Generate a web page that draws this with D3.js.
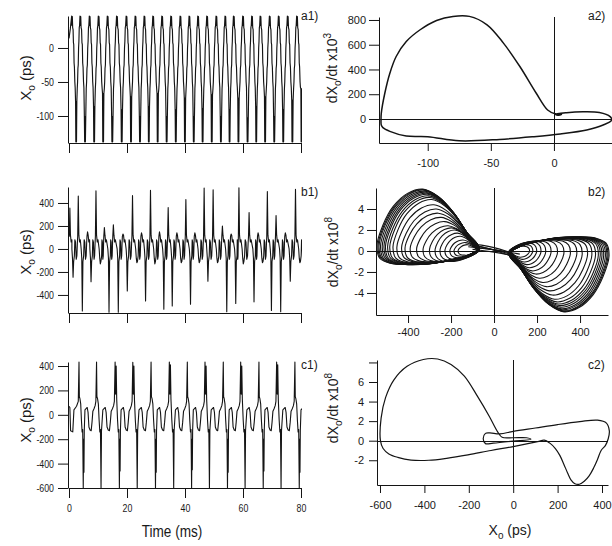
<!DOCTYPE html>
<html><head><meta charset="utf-8">
<script src="https://cdn.jsdelivr.net/npm/d3@7/dist/d3.min.js"></script>
<style>
body{margin:0;background:#fff}
svg text{font-family:"Liberation Sans",Arial,Helvetica,sans-serif;fill:#1a1a1a}
</style></head><body>
<svg id="chart" width="612" height="546" xmlns="http://www.w3.org/2000/svg"></svg>
<script>
// ================= DATA =================
const timeTicks=[0,20,40,60,80];
const a1YTicks=[0,-50,-100];
const b1YTicks=[400,200,0,-200,-400];
const c1YTicks=[400,200,0,-200,-400,-600];
const a2XTicks=[-100,-50,0], a2YTicks=[0,200,400,600,800];
const b2XTicks=[-400,-200,0,200,400], b2YTicks=[-4,-2,0,2,4];
const c2XTicks=[-600,-400,-200,0,200,400], c2YTicks=[-2,0,2,4,6,8];

// a1: periodic series — peak times (ms) and the level where each fast drop starts (ps)
const a1Lead=[[0,14],[0.45,28]];
const a1PeakT=[0.92,3.79,7.0,10.1,13.2,16.4,19.7,22.8,25.9,28.9,32.0,35.1,38.3,41.4,44.4,47.5,50.7,53.8,56.7,59.9,63.0,65.9,69.1,72.2,75.3,78.5];
const a1Knee=[-79,-101,-86,-67,-101,-91,-72,-101,-86,-67,-101,-91,-74,-101,-89,-69,-101,-91,-74,-103,-86,-72,-101,-91,-77,-60];
// shape of one a1 cycle: fraction of the cycle, value ("K" = knee of that cycle)
const a1ProfF=[0,0.04,0.08,0.12,0.17,0.21,0.25,0.29,0.33,0.38,0.42,0.47,0.50,0.54,0.58,0.62,0.67,0.71,0.75,0.79,0.83,0.87,0.91,0.95];
const a1ProfV=[47,33,46,30,27,8,5,-22,-28,-50,-58,"K",-138,"K",-138,"K",-60,-50,-30,-25,0,10,30,33];

// b1: chaotic series — per oscillation: time/height of upward spike, time/depth of downward spike
const b1Lead=[[0,150]];
const b1T  =[0.3,3.2,6.4,9.3,12.2,15.3,18.6,21.9,25.0,28.1,31.2,34.2,37.2,40.3,43.4,46.6,49.7,52.9,55.9,58.6,62.1,65.2,68.4,71.4,74.6,78.1];
const b1Up =[355,461,150,505,186,210,130,465,140,510,150,360,140,430,140,530,515,200,130,533,316,140,500,290,140,519];
const b1DnT=[1.4,4.6,7.6,10.8,13.8,17.0,20.1,23.4,26.4,29.6,32.7,35.6,38.7,41.9,44.9,47.9,51.2,54.4,57.5,60.1,63.8,66.7,69.8,73.0,76.3,79.6];
const b1Dn =[-245,-540,-285,-130,-550,-550,-365,-120,-452,-130,-525,-496,-120,-480,-120,-280,-120,-545,-475,-130,-460,-120,-535,-545,-280,-120];
const b1BaseF=[0.15,0.35,0.55,0.75,0.9];
const b1BaseV=[80,60,-90,-60,50];

// c1: periodic bursting series
const c1Lead=[[0,70],[0.3,60],[0.55,-130],[1.3,-140],[1.7,40],[2.6,70],[3.2,110]];
const c1T  =[3.45,9.5,15.9,22.0,28.3,34.6,40.8,46.9,53.2,59.2,65.5,71.6,77.9];
const c1Up =[432,432,432,430,432,432,432,432,432,432,432,432,432];
const c1Up2=[0,0,400,400,0,410,0,400,0,400,0,410,0];
const c1Dn =[-600,-600,-600,-600,-600,-600,-600,-600,-600,-600,-600,-600,-600];
const c1Dn2=[-470,0,-460,0,-470,0,-450,0,-470,0,-460,0,-470];
const c1BaseF=[0.339,0.403,0.468,0.516,0.565,0.629,0.694,0.742,0.79,0.855,0.919,0.96];
const c1BaseV=[40,50,60,20,-100,-125,-130,-60,30,50,75,110];

// a2: limit cycle (X0 ps, dX0/dt x10^3)
const a2X=[-136.8,-137,-136.8,-134,-130,-125,-117,-106,-93,-80,-67,-53,-40,-27,-14,-5,1,6,4,1,10,23,36,44.5,45.8,39,26,5,-16,-43,-75,-100,-117,-130,-135.5];
const a2Y=[-49,0,46,208,370,505,626,721,796,829,829,761,613,424,208,73,42,38,30,38,51,58,52,19,-8,-49,-89,-121,-143,-165,-176,-143,-138,-100,-70];

// b2: double-scroll attractor — nested loops (edge x, top, bottom) of each lobe
const b2NeckL=-70, b2NeckR=70;
const b2LeftEdge=[-545,-540,-535,-528,-520,-512,-505,-495,-485,-470,-452,-430,-414,-390,-360,-330,-300,-274,-251,-228,-205,-186,-167];
const b2LeftTop =[5.9,5.85,5.8,5.7,5.6,5.5,5.4,5.25,5.1,4.9,4.4,4.0,3.6,3.2,2.8,2.4,2.2,2.0,1.7,1.4,1.05,0.8,0.6];
const b2LeftBot =[-1.3,-1.3,-1.28,-1.27,-1.25,-1.25,-1.22,-1.2,-1.2,-1.18,-1.15,-1.1,-1.1,-1.05,-1.0,-1.0,-1.0,-1.0,-0.9,-0.8,-0.65,-0.5,-0.4];
const b2RightEdge=[535,530,525,518,510,502,494,485,472,455,435,410,385,355,325,295,265,240,218,198,180,165];
const b2RightBot =[-5.8,-5.75,-5.7,-5.6,-5.5,-5.35,-5.2,-5.05,-4.85,-4.6,-4.2,-3.8,-3.4,-3.0,-2.6,-2.2,-1.9,-1.6,-1.3,-1.05,-0.8,-0.6];
const b2RightTop =[1.35,1.35,1.33,1.3,1.3,1.28,1.25,1.25,1.2,1.2,1.15,1.1,1.1,1.05,1.0,1.0,0.95,0.9,0.85,0.75,0.6,0.45];
const b2LoopU=[1.00,0.88,0.75,0.60,0.45,0.30,0.16,0.06,0.00,0.03,0.13,0.30,0.50,0.70,0.88];
const b2LoopV=[0.05,0.30,0.62,0.88,1.00,0.93,0.72,0.42,0.08,-0.55,-0.90,-1.00,-0.95,-0.70,-0.35];
const b2CrossA=[[-110,0.7],[-90,0.5],[-80,0.3],[-100,0.15],[-70,0.6],[-120,0.4]];
const b2CrossB=[[110,-0.7],[90,-0.4],[80,-0.2],[100,-0.5],[70,-0.1],[120,-0.3]];

// c2: periodic orbit
const c2X=[-598,-595,-575,-538,-478,-405,-340,-280,-220,-160,-108,-70,-50,0,60,80,0,-90,-125,-135,-125,-105,-60,0,100,200,300,380,420,433,428,415,396,380,362,342,320,298,278,260,245,228,210,190,165,140,110,0,-100,-204,-300,-380,-460,-520,-560,-586];
const c2Y=[0,2.3,4.4,6.2,7.6,8.3,8.35,7.8,6.6,4.5,2.5,0.9,0.35,0.3,0.3,0.15,-0.05,-0.25,-0.3,0.2,0.75,0.8,0.7,0.95,1.3,1.65,1.95,2.1,1.8,1.0,0.2,-0.5,-1.0,-1.9,-2.8,-3.6,-4.15,-4.45,-4.4,-4.0,-3.3,-2.4,-1.5,-0.8,-0.25,0.05,-0.1,-0.6,-1.0,-1.45,-1.8,-2.0,-1.98,-1.7,-1.35,-0.8];

// ================= DRAWING =================
const svg=d3.select("#chart");
const INK="#141414";
const fmt=d=>String(d);

function styleAxis(g,sx){
  g.attr("font-size",11);
  g.selectAll("path,line").attr("stroke",INK);
  if(sx!==1){
    g.selectAll("text").each(function(){
      const t=d3.select(this); const x=+t.attr("x")||0;
      t.attr("x",x/sx).attr("transform",`scale(${sx},1)`);
    });
  }
}
function leftAxis(y,x0,ticks,size,pad,sx,format){
  const g=svg.append("g").attr("transform",`translate(${x0},0)`)
    .call(d3.axisLeft(y).tickValues(ticks).tickSize(size).tickSizeOuter(0).tickPadding(pad).tickFormat(format||fmt));
  styleAxis(g,sx); return g;
}
function bottomAxis(x,y0,ticks,size,pad,sx,labels){
  const g=svg.append("g").attr("transform",`translate(0,${y0})`)
    .call(d3.axisBottom(x).tickValues(ticks).tickSize(size).tickSizeOuter(0).tickPadding(pad).tickFormat(labels?fmt:()=>""));
  styleAxis(g,sx); return g;
}
function clip(id,x,y,w,h){
  svg.append("clipPath").attr("id",id).append("rect").attr("x",x).attr("y",y).attr("width",w).attr("height",h);
  return `url(#${id})`;
}
function drawLine(pts,x,y,clipUrl,w){
  svg.append("path").datum(pts).attr("fill","none").attr("stroke",INK).attr("stroke-width",w||1.1)
    .attr("stroke-linejoin","round").attr("clip-path",clipUrl||null)
    .attr("d",d3.line().x(d=>x(d[0])).y(d=>y(d[1])));
}
function drawLoop(pts,x,y,w){
  svg.append("path").datum(pts).attr("fill","none").attr("stroke",INK).attr("stroke-width",w||1.1)
    .attr("d",d3.line().x(d=>x(d[0])).y(d=>y(d[1])).curve(d3.curveCatmullRomClosed.alpha(0.5)));
}
function zeroLines(x,y){
  const [x0,x1]=x.range(), [y0,y1]=y.range();
  svg.append("line").attr("x1",Math.round(x(0))+0.5).attr("x2",Math.round(x(0))+0.5).attr("y1",y0).attr("y2",y1).attr("stroke",INK);
  svg.append("line").attr("x1",x0).attr("x2",x1).attr("y1",Math.round(y(0))+0.5).attr("y2",Math.round(y(0))+0.5).attr("stroke",INK);
}
function yTitle(x,y,size,parts){
  const t=svg.append("text").attr("transform",`translate(${x},${y}) rotate(-90)`).attr("text-anchor","middle").attr("font-size",size);
  parts.forEach(p=>t.append("tspan").attr("dy",p[1]||0).attr("font-size",p[2]||null).text(p[0]));
}
function label(x,y,txt,size,anchor){
  svg.append("text").attr("x",x).attr("y",y).attr("font-size",size).attr("text-anchor",anchor||"start").text(txt);
}

// ---- scales ----
const xT=d3.scaleLinear([0,80],[69,301]);
const a1y=d3.scaleLinear([-139.7,47],[143,16]);
const b1y=d3.scaleLinear([-557,539],[313,187]);
const c1y=d3.scaleLinear([-600,433],[488,362]);
const a2x=d3.scaleLinear([-138.6,46],[379,612]), a2y=d3.scaleLinear([-194,824],[143,17]);
const b2x=d3.scaleLinear([-549,530],[376,608]), b2y=d3.scaleLinear([-6.1,6.0],[315,188]);
const c2x=d3.scaleLinear([-613.5,427],[377,608]), c2y=d3.scaleLinear([-4.53,8.25],[485,360]);

// ---- time-series axes ----
const SX=0.8;
leftAxis(a1y,68,a1YTicks,10,4,SX); bottomAxis(xT,143,timeTicks,10,4,SX,false);
leftAxis(b1y,68,b1YTicks,10,4,SX); bottomAxis(xT,313,timeTicks,10,4,SX,false);
leftAxis(c1y,68,c1YTicks,10,4,SX); bottomAxis(xT,488,timeTicks,10,6,SX,true);

// ---- a1 series ----
const a1Pts=a1Lead.slice();
a1PeakT.forEach((t0,k)=>{
  const P=(k+1<a1PeakT.length?a1PeakT[k+1]:t0+3.1)-t0;
  a1ProfF.forEach((f,i)=>{
    let v=a1ProfV[i]; if(v==="K") v=a1Knee[k];
    a1Pts.push([t0+f*P,v]);
  });
});
drawLine(a1Pts,xT,a1y,clip("ca1",68,10,234,134),1.15);

// ---- b1 series ----
const b1Pts=b1Lead.slice();
b1T.forEach((tU,k)=>{
  const tD=b1DnT[k], tN=k+1<b1T.length?b1T[k+1]:tU+3.1;
  b1Pts.push([tU-0.2,110],[tU,b1Up[k]],[tU+0.2,120],[tU+0.45,60],[tU+0.7,80]);
  b1Pts.push([tD-0.4,0],[tD-0.2,-80],[tD,b1Dn[k]],[tD+0.2,-110],[tD+0.45,-60]);
  const a=tD+0.45,b=tN-0.2;
  b1BaseF.forEach((f,i)=>b1Pts.push([a+f*(b-a),b1BaseV[i]]));
});
drawLine(b1Pts,xT,b1y,clip("cb1",68,180,234,134),1.1);

// ---- c1 series ----
const c1Pts=c1Lead.slice();
c1T.forEach((tU,k)=>{
  const P=(k+1<c1T.length?c1T[k+1]:tU+6.2)-tU, at=f=>tU+f*P;
  c1Pts.push([at(0),c1Up[k]]);
  if(c1Up2[k]) c1Pts.push([at(0.03),170],[at(0.06),c1Up2[k]],[at(0.09),130]);
  else c1Pts.push([at(0.02),150],[at(0.056),130],[at(0.097),90]);
  c1Pts.push([at(0.137),-40],[at(0.177),-140],[at(0.21),-120],[at(0.242),c1Dn[k]]);
  if(c1Dn2[k]) c1Pts.push([at(0.262),-200],[at(0.282),c1Dn2[k]],[at(0.30),-130]);
  else c1Pts.push([at(0.266),-130]);
  c1BaseF.forEach((f,i)=>c1Pts.push([at(f),c1BaseV[i]]));
});
drawLine(c1Pts,xT,c1y,clip("cc1",68,355,234,134),1.1);

// ---- phase portrait axes ----
leftAxis(a2y,379,a2YTicks,10,3,1); bottomAxis(a2x,143,a2XTicks,8,8,1,true); zeroLines(a2x,a2y);
leftAxis(b2y,376,b2YTicks,9,3,1); bottomAxis(b2x,315,b2XTicks,8,5,1,true); zeroLines(b2x,b2y);
leftAxis(c2y,377,c2YTicks,8,5,1,d=>d===8?"":String(d)); bottomAxis(c2x,485,c2XTicks,8,8,1,true); zeroLines(c2x,c2y);

// ---- a2 ----
drawLoop(a2X.map((v,i)=>[v,a2Y[i]]),a2x,a2y,1.5);

// ---- b2 ----
b2LeftEdge.forEach((e,k)=>{
  const pts=b2LoopU.map((u,i)=>{const v=b2LoopV[i];
    return [e+u*(b2NeckL-e), v>=0 ? v*b2LeftTop[k] : -v*b2LeftBot[k]];});
  drawLoop(pts,b2x,b2y,1.1);
});
b2RightEdge.forEach((e,k)=>{
  // point-mirrored lobe: dome goes down to the "bottom", flat side at the "top"
  const pts=b2LoopU.map((u,i)=>{const v=b2LoopV[i];
    return [e+u*(b2NeckR-e), v>=0 ? v*b2RightBot[k] : -v*b2RightTop[k]];});
  drawLoop(pts,b2x,b2y,1.1);
});
b2CrossA.forEach((a,i)=>{
  const b=b2CrossB[i];
  svg.append("path").attr("fill","none").attr("stroke",INK).attr("stroke-width",1.1)
    .attr("d",d3.line().x(d=>b2x(d[0])).y(d=>b2y(d[1])).curve(d3.curveBasis)([a,[(a[0]+b[0])/2,(a[1]+b[1])/2+0.1],b]));
});

// ---- c2 ----
drawLoop(c2X.map((v,i)=>[v,c2Y[i]]),c2x,c2y,1.2);

// ---- titles ----
const XO=[["X",0],["o",4,10],[" (ps)",-4]];
yTitle(31,78,15,XO);
yTitle(31,252,15,XO);
yTitle(31,420,15,XO);
yTitle(337,68,14,[["dX",0],["o",4,10],["/dt x10",-4],["3",-6,10]]);
yTitle(338,252,14,[["dX",0],["o",4,10],["/dt x10",-4],["8",-6,10]]);
yTitle(338,408,14,[["dX",0],["o",4,10],["/dt  x10",-4],["8",-6,10]]);
svg.append("text").attr("transform","translate(172,537) scale(0.85,1)").attr("text-anchor","middle").attr("font-size",16).text("Time (ms)");
const xl=svg.append("text").attr("x",510).attr("y",535).attr("text-anchor","middle").attr("font-size",14);
xl.append("tspan").text("X"); xl.append("tspan").attr("dy",4).attr("font-size",10).text("o"); xl.append("tspan").attr("dy",-4).text(" (ps)");

label(301,20,"a1)",12); label(301,196,"b1)",12); label(301,369,"c1)",12);
label(588,20,"a2)",12); label(588,196,"b2)",12); label(588,369,"c2)",12);
</script></body></html>
